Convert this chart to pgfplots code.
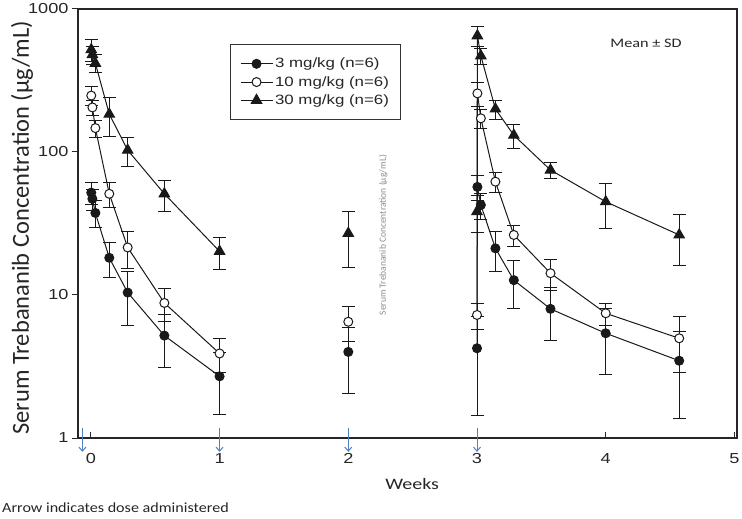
\documentclass[border=0pt]{standalone}
\usepackage{fontspec}
\setmainfont{Liberation Sans}[FakeStretch=1.25]
\newfontfamily\calib{Carlito}
\newfontfamily\calibw{Carlito}[FakeStretch=1.25]
\newfontfamily\calibf{Carlito}[FakeStretch=1.15]
\usepackage{pgfplots}
\pgfplotsset{compat=1.18}
\usepackage{pgfplotstable}
\usetikzlibrary{arrows.meta}
\definecolor{arrowblue}{RGB}{79,129,189}
\definecolor{ink}{RGB}{25,25,25}

\pgfplotstableread{
x y ey
0.003 52 9
0.012 47 8
0.035 37.5 8
0.143 18.2 5
0.286 10.4 4.3
0.571 5.2 2.1
1.0 2.7 1.25
1.5 nan nan
2.0 4.0 1.95
2.5 nan nan
3.0 4.24 2.8
3.003 57 11
3.03 42.6 9
3.143 21.2 6.5
3.286 12.7 4.6
3.571 8.0 3.2
4.0 5.4 2.6
4.571 3.47 2.1
}\lowdose

\pgfplotstableread{
x y ey
0.003 248 38
0.012 205 25
0.035 147 20
0.143 51 10
0.286 21.5 6.3
0.571 8.8 2.3
1.0 3.9 1.05
1.5 nan nan
2.0 6.5 1.8
2.5 nan nan
3.0 7.25 1.5
3.003 257 50
3.03 172 25
3.143 62 10
3.286 26.3 4.5
3.571 14.2 3.4
4.0 7.45 1.3
4.571 4.98 2.1
}\middose

\pgfplotstableread{
x y ey
0.003 520 90
0.012 480 70
0.035 417 60
0.143 184 55
0.286 103 24
0.571 51 12.7
1.0 20.2 5.1
1.5 nan nan
2.0 27 11.5
2.5 nan nan
3.0 38.3 11
3.003 650 100
3.03 470 60
3.143 200 30
3.286 131 25
3.571 74.8 9.8
4.0 44.9 15.5
4.571 26.3 10.3
}\highdose

\begin{document}
\begin{tikzpicture}
\useasboundingbox (0,0) rectangle (742bp,519bp);
\begin{axis}[
  at={(78bp,81bp)}, anchor=south west,
  scale only axis, width=659bp, height=429bp,
  ymode=log, ymin=1, ymax=1000, xmin=-0.1, xmax=5.02,
  xtick={0,1,2,3,4,5}, xticklabels={0,1,2,3,4,5},
  ytick={1,10,100,1000}, yticklabels={1,10,100,1000},
  yminorticks=false,
  xtick pos=bottom, ytick pos=left,
  tick align=inside, major tick length=6bp,
  ytick style={xshift=-6bp},
  axis line style={draw=black!85, line width=1.4bp},
  tick style={draw=black!85, line width=1bp},
  ticklabel style={font=\fontsize{14.5bp}{16bp}\selectfont, text=black!85},
  xticklabel style={yshift=-12bp},
  yticklabel style={xshift=-6bp},
  clip=false,
  unbounded coords=jump,
  legend cell align=left,
  legend style={at={(0.2307,0.918)}, anchor=north west, draw=black!80, line width=1bp, fill=white,
    font=\fontsize{13.5bp}{15bp}\selectfont, text=black!85, inner xsep=9.5bp, inner ysep=11.5bp, row sep=3bp},
  legend image code/.code={\draw[mark repeat=2,mark phase=2,#1] plot coordinates {(0bp,0bp)(16bp,0bp)(32bp,0bp)};},
]
\addplot[ink, line width=1bp, mark=*, mark size=4.5bp, mark options={fill=ink, draw=ink, solid},
  error bars/.cd, y dir=both, y explicit, error bar style={line width=1bp, ink},
  error mark options={rotate=90, mark size=6.5bp, line width=1bp, ink}]
  table[x=x, y=y, y error=ey] {\lowdose};
\addlegendentry{3 mg/kg (n=6)}
\addplot[ink, line width=1bp, mark=*, mark size=4.5bp, mark options={fill=white, draw=ink, solid},
  error bars/.cd, y dir=both, y explicit, error bar style={line width=1bp, ink},
  error mark options={rotate=90, mark size=6.5bp, line width=1bp, ink}]
  table[x=x, y=y, y error=ey] {\middose};
\addlegendentry{10 mg/kg (n=6)}
\addplot[ink, line width=1bp, mark=triangle*, mark size=6bp, mark options={fill=ink, draw=ink, solid},
  error bars/.cd, y dir=both, y explicit, error bar style={line width=1bp, ink},
  error mark options={rotate=90, mark size=6.5bp, line width=1bp, ink}]
  table[x=x, y=y, y error=ey] {\highdose};
\addlegendentry{30 mg/kg (n=6)}

\draw[arrowblue, line width=1bp, -{Straight Barb[length=4bp,width=7bp]}] (axis cs:-0.066,1.175) -- (axis cs:-0.066,0.80);
\draw[arrowblue, line width=1bp, -{Straight Barb[length=4bp,width=7bp]}] (axis cs:1,1.175) -- (axis cs:1,0.80);
\draw[arrowblue, line width=1bp, -{Straight Barb[length=4bp,width=7bp]}] (axis cs:2,1.175) -- (axis cs:2,0.80);
\draw[arrowblue, line width=1bp, -{Straight Barb[length=4bp,width=7bp]}] (axis cs:3,1.175) -- (axis cs:3,0.80);

\node[font=\calibw\fontsize{13bp}{15bp}\selectfont, text=black!85] at (rel axis cs:0.862,0.921) {Mean ± SD};
\node[rotate=90, font=\calib\fontsize{24.5bp}{26bp}\selectfont, text=black!85] at (rel axis cs:-0.085,0.49) {Serum Trebananib Concentration (µg/mL)};
\node[font=\calibw\fontsize{16bp}{18bp}\selectfont, text=black!85] at (rel axis cs:0.507,-0.107) {Weeks};
\node[anchor=west, inner sep=0pt, font=\calibf\fontsize{14bp}{16bp}\selectfont, text=black!85] at (rel axis cs:-0.1153,-0.163) {Arrow indicates dose administered};
\node[rotate=90, font=\calib\fontsize{9.5bp}{11bp}\selectfont, text=black!45] at (rel axis cs:0.463,0.473) {Serum Trebananib Concentration (µg/mL)};
\end{axis}
\end{tikzpicture}
\end{document}
